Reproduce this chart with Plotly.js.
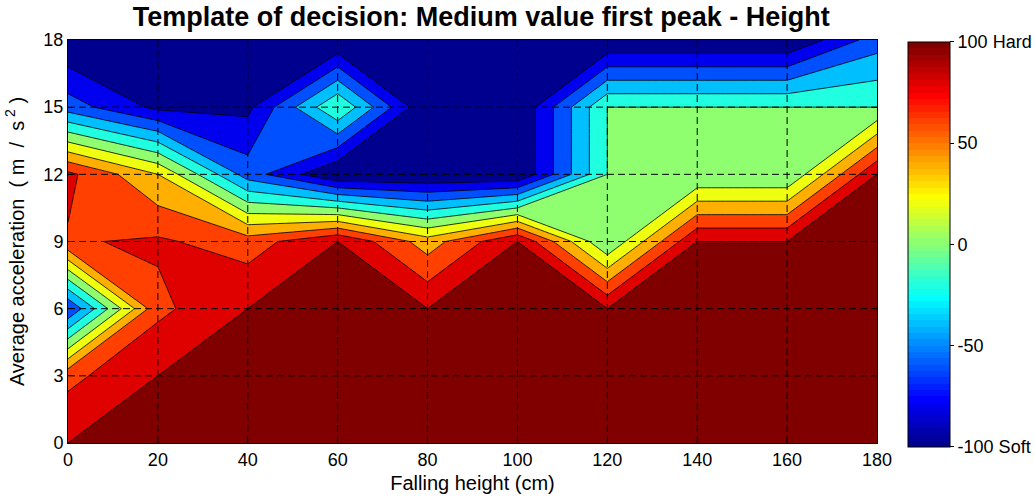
<!DOCTYPE html>
<html><head><meta charset="utf-8">
<script src="https://cdn.plot.ly/plotly-3.0.1.min.js"></script>
<style>body{margin:0;background:#fff}</style>
</head><body><div id="chart" style="width:1035px;height:501px"></div>
<script>
// Falling height (cm) — columns
const fallingHeight = [0, 20, 40, 60, 80, 100, 120, 140, 160, 180];
// Average acceleration (m/s^2) — rows
const acceleration = [0, 3, 6, 9, 12, 15, 18];
// Decision score per row (one array per acceleration value)
const score_acc0  = [100, 100, 100, 100, 100, 100, 100, 100, 100, 100];
const score_acc3  = [74, 100, 100, 100, 100, 100, 100, 100, 100, 100];
const score_acc6  = [-60, 75, 100, 100, 100, 100, 100, 100, 100, 100];
const score_acc9  = [78, 83, 70, 100, 50, 100, 0, 100, 100, 100];
const score_acc12 = [85, 40, -50, -100, -100, -100, 0, 0, 0, 100];
const score_acc15 = [-50, -85, -85, 0, -100, -100, 0, 0, 0, 0];
const score_acc18 = [-100, -100, -100, -100, -100, -100, -100, -100, -100, -50];
// Contour levels
const levelStart = -80, levelEnd = 100, levelStep = 20;
// Axis ticks
const xTicks = [0, 20, 40, 60, 80, 100, 120, 140, 160, 180];
const yTicks = [0, 3, 6, 9, 12, 15, 18];
const cbTickVals = [-100, -50, 0, 50, 100];
const cbTickText = ['-100 Soft', '-50', '0', '50', '100 Hard'];

const z = [score_acc0, score_acc3, score_acc6, score_acc9, score_acc12, score_acc15, score_acc18];

// MATLAB jet(64) colormap (style only)
function jet64(i) {
  const t = i + 1;
  const cl = v => Math.max(0, Math.min(1, v));
  const b = t <= 8 ? (t + 8) / 16 : (t <= 24 ? 1 : (t <= 40 ? 1 - (t - 24) / 16 : 0));
  const g = t <= 8 ? 0 : (t <= 24 ? (t - 8) / 16 : (t <= 40 ? 1 : (t <= 56 ? 1 - (t - 40) / 16 : 0)));
  const r = t <= 24 ? 0 : (t <= 40 ? (t - 24) / 16 : (t <= 56 ? 1 : 1 - (t - 56) / 16));
  return 'rgb(' + Math.round(cl(r) * 255) + ',' + Math.round(cl(g) * 255) + ',' + Math.round(cl(b) * 255) + ')';
}
const jetScale = [];
for (let i = 0; i < 64; i++) { jetScale.push([i / 64, jet64(i)]); jetScale.push([(i + 1) / 64, jet64(i)]); }

// fill colours of the 11 bands (MATLAB jet at each lower level)
const bandColors = ['rgb(0,0,143)', 'rgb(0,0,239)', 'rgb(0,80,255)', 'rgb(0,191,255)', 'rgb(32,255,223)',
  'rgb(143,255,112)', 'rgb(239,255,16)', 'rgb(255,175,0)', 'rgb(255,64,0)', 'rgb(223,0,0)', 'rgb(128,0,0)'];
const bandScale = bandColors.map((c, i) => [i / (bandColors.length - 1), c]);

const eps = 0.01;
const font = 'Liberation Sans, Arial, Helvetica, sans-serif';

const contourTrace = {
  type: 'contour', x: fallingHeight, y: acceleration, z: z,
  autocontour: false,
  contours: { start: levelStart - eps, end: levelEnd - eps, size: levelStep, coloring: 'fill', showlines: true },
  colorscale: bandScale, showscale: false,
  line: { color: 'black', width: 0.8, smoothing: 0 },
  hoverinfo: 'skip'
};

const cbTrace = {
  type: 'scatter', mode: 'markers', x: [fallingHeight[0]], y: [acceleration[0]],
  marker: { color: [cbTickVals[0]], cmin: cbTickVals[0], cmax: cbTickVals[cbTickVals.length - 1],
    colorscale: jetScale, opacity: 0, size: 1, showscale: true,
    colorbar: { x: 1.038, xanchor: 'left', y: 0.493, yanchor: 'middle',
      thickness: 42, thicknessmode: 'pixels', len: 405, lenmode: 'pixels',
      outlinewidth: 1, outlinecolor: 'black', borderwidth: 0,
      tickvals: cbTickVals, ticktext: cbTickText, ticks: 'outside', ticklen: 4, tickcolor: 'black',
      tickfont: { family: font, size: 18, color: 'black' }, xpad: 0, ypad: 0 } },
  hoverinfo: 'skip', showlegend: false
};

const shapes = [];
xTicks.slice(1, -1).forEach(t => shapes.push({ type: 'line', xref: 'x', yref: 'y', x0: t, x1: t,
  y0: yTicks[0], y1: yTicks[yTicks.length - 1], layer: 'above', line: { color: 'black', width: 1, dash: '7px,4px' } }));
yTicks.slice(1, -1).forEach(t => shapes.push({ type: 'line', xref: 'x', yref: 'y', y0: t, y1: t,
  x0: xTicks[0], x1: xTicks[xTicks.length - 1], layer: 'above', line: { color: 'black', width: 1, dash: '7px,4px' } }));

const axisCommon = { showgrid: false, zeroline: false, showline: true, linecolor: 'black', linewidth: 1,
  mirror: 'ticks', ticks: 'inside', ticklen: 5, tickcolor: 'black', tickfont: { family: font, size: 18, color: 'black' } };

const layout = {
  width: 1035, height: 501,
  margin: { l: 68, r: 158, t: 40, b: 58, autoexpand: false },
  paper_bgcolor: 'white', plot_bgcolor: 'white',
  title: { text: '<b>Template of decision: Medium value first peak - Height</b>', x: 0.465, xanchor: 'center', y: 0.966, yanchor: 'middle',
    font: { family: font, size: 27, color: 'black' } },
  xaxis: Object.assign({}, axisCommon, { range: [xTicks[0], xTicks[xTicks.length - 1]], tickvals: xTicks,
    title: { text: 'Falling height (cm)', font: { family: font, size: 20, color: 'black' }, standoff: 7 } }),
  yaxis: Object.assign({}, axisCommon, { range: [yTicks[0], yTicks[yTicks.length - 1]], tickvals: yTicks,
    title: { text: 'Average acceleration  ( m  /  s<sup> 2</sup> )', font: { family: font, size: 20, color: 'black' }, standoff: 13 } }),
  shapes: shapes,
  showlegend: false
};

Plotly.newPlot('chart', [contourTrace, cbTrace], layout, { displayModeBar: false, staticPlot: true });
</script>
</body></html>
